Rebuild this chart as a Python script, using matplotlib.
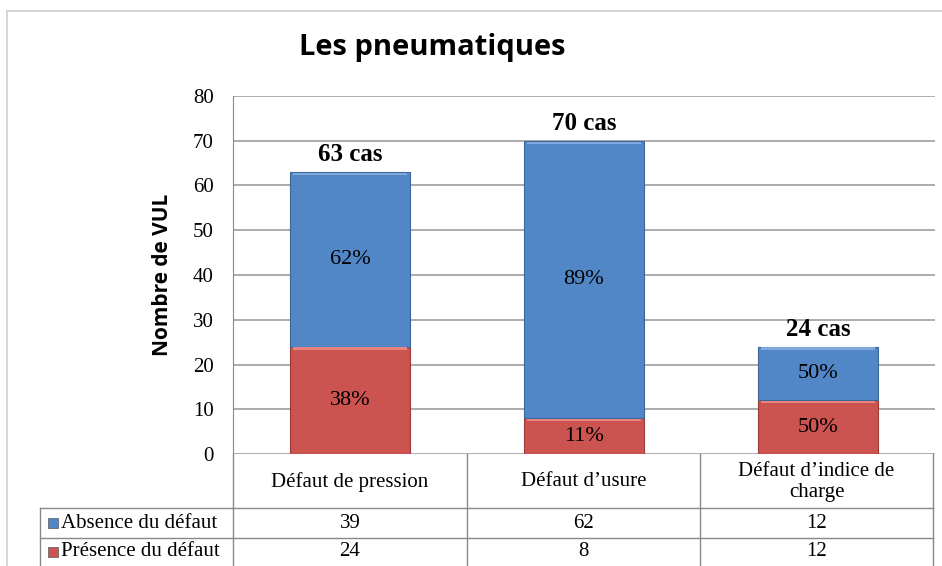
import matplotlib.pyplot as plt
from matplotlib.patches import Rectangle
from matplotlib.lines import Line2D

categories = ['Défaut de pression', 'Défaut d\u2019usure', 'Défaut d\u2019indice de\ncharge']
series_names = ['Absence du défaut', 'Présence du défaut']
absence = [39, 62, 12]
presence = [24, 8, 12]
pct_absence = ['62%', '89%', '50%']
pct_presence = ['38%', '11%', '50%']
totals = ['63 cas', '70 cas', '24 cas']
yticks = [0, 10, 20, 30, 40, 50, 60, 70, 80]

blue = '#5187C7'
red = '#CB5350'
grid_col = '#A6A6A6'
serif = 'Liberation Serif'
W, H = 942, 566


def fx(x):
    return x / W


def fy(y):
    return 1 - y / H


fig = plt.figure(figsize=(9.42, 5.66), dpi=100)
ax = fig.add_axes([fx(233), fy(454), fx(935 - 233), (454 - 96) / H])

x = range(len(categories))
bw = 0.51
ax.bar(x, presence, bw, color=red, edgecolor='#9E3B38', linewidth=0.8, zorder=3)
ax.bar(x, absence, bw, bottom=presence, color=blue, edgecolor='#3B6696', linewidth=0.8, zorder=3)
# light bevel strip on top of each segment
for i in x:
    ax.bar(i, 0.5, bw * 0.96, bottom=presence[i] - 0.7, color='#E8847F', linewidth=0, zorder=4)
    ax.bar(i, 0.5, bw * 0.96, bottom=presence[i] + absence[i] - 0.7, color='#7FA9DC', linewidth=0, zorder=4)
    ax.text(i, presence[i] / 2, pct_presence[i], ha='center', va='center', fontsize=16, family=serif, zorder=5)
    ax.text(i, presence[i] + absence[i] / 2, pct_absence[i], ha='center', va='center', fontsize=16, family=serif, zorder=5)
    ax.text(i, presence[i] + absence[i] + 1.3, totals[i], ha='center', va='bottom', fontsize=18,
            fontweight='bold', family=serif, zorder=5)

ax.set_xlim(-0.5, 2.5)
ax.set_ylim(0, 80)
ax.set_yticks(yticks)
ax.set_yticklabels([str(t) for t in yticks], family=serif, fontsize=15)
ax.tick_params(axis='y', length=0, pad=14)
ax.set_xticks([])
ax.yaxis.grid(True, color=grid_col, linewidth=1.3, zorder=0)
for s in ['top', 'right', 'bottom']:
    ax.spines[s].set_visible(False)
ax.spines['left'].set_color('#888888')
ax.set_ylabel('Nombre de VUL', family='Open Sans', fontweight='bold', fontsize=15, labelpad=14)

fig.text(fx(432), fy(47), 'Les pneumatiques', ha='center', va='center', family='Open Sans',
         fontweight='bold', fontsize=21)

# data table below the plot
cols = [233, 467, 700, 933]
rows = [454, 508, 538, 566]
lc = '#888888'
for cx in cols:
    fig.add_artist(Line2D([fx(cx), fx(cx)], [fy(454), fy(566)], color=lc, lw=1))
fig.add_artist(Line2D([fx(40), fx(40)], [fy(508), fy(566)], color=lc, lw=1))
for ry in rows[1:3]:
    fig.add_artist(Line2D([fx(40), fx(933)], [fy(ry), fy(ry)], color=lc, lw=1))

for i, c in enumerate(categories):
    fig.text(fx((cols[i] + cols[i + 1]) / 2), fy(482), c, ha='center', va='center',
             family=serif, fontsize=15, linespacing=1.15)
table_rows = [absence, presence]
for r, (name, vals, col) in enumerate(zip(series_names, table_rows, [blue, red])):
    yc = (rows[r + 1] + rows[r + 2]) / 2
    fig.add_artist(Rectangle((fx(48), fy(yc + 5)), fx(10), 10 / H, facecolor=col, edgecolor='#555555', lw=0.5))
    fig.text(fx(61), fy(yc), name, ha='left', va='center', family=serif, fontsize=15)
    for i, v in enumerate(vals):
        fig.text(fx((cols[i] + cols[i + 1]) / 2), fy(yc), str(v), ha='center', va='center',
                 family=serif, fontsize=15)

# chart outer border
fig.add_artist(Line2D([fx(7), fx(7)], [fy(11), 0], color='#D0D0D0', lw=1.2))
fig.add_artist(Line2D([fx(7), 1], [fy(11), fy(11)], color='#D0D0D0', lw=1.2))

fig.savefig('out.png', dpi=100)
